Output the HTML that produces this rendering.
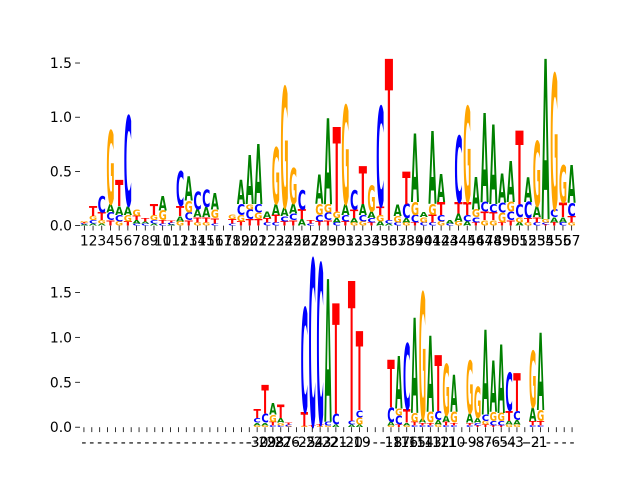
<!DOCTYPE html>
<html><head><meta charset="utf-8"><style>
html,body{margin:0;padding:0;background:#fff;}
svg{display:block;}
text{font-family:"DejaVu Sans","Liberation Sans",sans-serif;}
</style></head><body>
<svg id="chart" width="640" height="480" viewBox="0 0 640 480" xmlns="http://www.w3.org/2000/svg"></svg>
<script>
// ---- top panel data ----
const topLetters = ["ACTG","ACGT","AGTC","TCAG","GCAT","TGAC","CATG","CAT","ACGT","CTGA","ACT","GATC","TCGA","GTAC","GTAC","CTGA","","CTG","TGCA","TCGA","TGCA","CTA","CTAG","TCAG","TCAG","ATC","CT","TCGA","TCGA","CAGT","TCAG","GATC","GCAT","TCAG","AGTC","ACT","CGA","GACT","TCGA","CGA","CTGA","GCTA","CA","GATC","ACTG","TCGA","GTCA","GTCA","TGCA","TCGA","AGCT","GTCA","CTAG","TCGA","TACG","CATG","GTCA"];
const topHeights = [[.01,.01,.01,.01],[.02,.03,.04,.09],[.02,.03,.07,.15],[.05,.07,.08,.68],[.04,.06,.08,.24],[.04,.06,.08,.83],[.02,.03,.04,.06],[.02,.02,.03],[.02,.03,.05,.1],[.02,.03,.09,.13],[.01,.02,.02],[.04,.05,.09,.32],[.05,.07,.11,.22],[.03,.05,.07,.17],[.03,.05,.09,.16],[.02,.05,.08,.15],[],[.02,.04,.04],[.04,.06,.1,.22],[.06,.09,.05,.45],[.06,.06,.08,.55],[.03,.04,.06],[.03,.07,.1,.52],[.04,.05,.08,1.11],[.05,.06,.09,.33],[.06,.09,.18],[.02,.03],[.04,.06,.1,.27],[.05,.07,.08,.79],[.03,.04,.06,.78],[.04,.06,.1,.91],[.03,.04,.08,.18],[.04,.06,.1,.35],[.03,.04,.06,.24],[.04,.06,.08,.92],[.02,.03,1.49],[.03,.06,.11],[.03,.04,.13,.3],[.03,.07,.12,.63],[.03,.05,.05],[.03,.07,.1,.67],[.04,.06,.12,.26],[.02,.03],[.04,.07,.11,.61],[.04,.06,.12,.88],[.03,.05,.07,.3],[.05,.08,.09,.82],[.05,.07,.08,.73],[.03,.09,.09,.27],[.05,.08,.09,.38],[.03,.05,.12,.68],[.03,.04,.15,.23],[.03,.05,.1,.6],[.01,.02,.03,1.48],[.03,.05,.07,1.25],[.03,.05,.13,.35],[.03,.06,.12,.35]];
const topTicks = [0,0.5,1.0,1.5];
const topTickLabels = ["0.0","0.5","1.0","1.5"];
// ---- bottom panel data ----
const botPositions = [23,24,25,26,27,29,30,31,32,33,35,36,40,41,42,43,44,45,46,47,48,50,51,52,53,54,55,56,58,59];
const botLetters = ["GACT","GACT","CTGA","CGAT","GCT","GTC","TC","GTC","GCA","ACT","ACT","AGCT","GACT","TCGA","GATC","CTGA","CTAG","CTGA","GACT","CTAG","CTGA","CTAG","TCAG","TGCA","TCGA","TCGA","GATC","GACT","CTAG","CTGA"];
const botHeights = [[.02,.03,.05,.1],[.02,.03,.1,.32],[.02,.04,.08,.13],[.02,.03,.05,.15],[.01,.02,.02],[.01,.16,1.16],[.02,1.85],[.01,.03,1.78],[.02,.04,1.59],[.03,.12,1.23],[.03,.04,1.56],[.03,.08,.08,.88],[.02,.04,.16,.53],[.03,.1,.08,.59],[.02,.03,.15,.73],[.02,.04,.1,1.06],[.02,.03,.04,1.41],[.02,.03,.12,.85],[.03,.05,.1,.62],[.02,.04,.07,.57],[.02,.03,.12,.41],[.02,.03,.1,.59],[.02,.03,.05,.35],[.03,.04,.07,.94],[.02,.05,.1,.57],[.02,.05,.09,.76],[.03,.04,.11,.43],[.03,.05,.1,.42],[.02,.05,.15,.63],[.02,.05,.12,.86]];
const botTicks = [0,0.5,1.0,1.5];
const botTickLabels = ["0.0","0.5","1.0","1.5"];
const botLabelNums = ["-30","-29","-28","-27","-26","-25","-24","-23","-22","-21","-20","-19","-18","-17","-16","-15","-14","-13","-12","-11","-10","-9","-8","-7","-6","-5","-4","-3","-2","-1"];

const COLORS = {A:"#008000",C:"#0000ff",G:"#ffa500",T:"#ff0000"};
const NS = "http://www.w3.org/2000/svg";
const svg = document.getElementById("chart");
function mk(tag, attrs, parent){const e=document.createElementNS(NS,tag);for(const k in attrs)e.setAttribute(k,attrs[k]);(parent||svg).appendChild(e);return e;}

function panel(name, top, bottom, ymax, n){
  const g = mk("g",{});
  
  
  const L=80,R=576;
  const step=(R-L)/n;
  const xs = i => L + step*(i-0.5);
  const ys = v => bottom - (bottom-top)*v/ymax;
  return {g,xs,ys,step,L,R,top,bottom};
}
function drawStack(p, pos, letters, heights){
  let cum=0;
  for(let k=0;k<letters.length;k++){
    const ch=letters[k], h=heights[k];
    const y0=p.ys(cum), y1=p.ys(cum+h);
    cum+=h;
    const ph=y0-y1; if(ph<0.2) continue;
    const w=p.step*0.94;
    const t=mk("text",{x:p.xs(pos)-w/2,y:y0,"font-size":(ph/0.73).toFixed(3),"font-weight":"bold",fill:COLORS[ch],textLength:w.toFixed(2),lengthAdjust:"spacingAndGlyphs"},p.g);
    
    
    t.textContent=ch;
  }
}
function yAxis(p, ticks, labels){
  ticks.forEach((v,i)=>{
    const y=p.ys(v);
    mk("line",{x1:p.L-4.9,x2:p.L,y1:y,y2:y,stroke:"#000","stroke-width":0.8},p.g);
    const t=mk("text",{x:p.L-8,y:y+5,"font-size":13.9,"text-anchor":"end",fill:"#000"},p.g);
    
    
    t.textContent=labels[i];
  });
}
function xAxis(p, labels){
  labels.forEach((lab,i)=>{
    const x=p.xs(i+1);
    mk("line",{x1:x,x2:x,y1:p.bottom,y2:p.bottom+4.9,stroke:"#000","stroke-width":0.8},p.g);
    const t=mk("text",{x:x,y:p.bottom+20,"font-size":13.9,"text-anchor":"middle",fill:"#000"},p.g);
    
    
    t.textContent=lab;
  });
}

// top
const pt = panel("top-logo-panel", 57.6, 225.6, 1.55, 57);
topLetters.forEach((s,i)=>drawStack(pt,i+1,s,topHeights[i]));
yAxis(pt, topTicks, topTickLabels);
xAxis(pt, topLetters.map((_,i)=>String(i+1)));

// bottom
const pb = panel("bottom-logo-panel", 259.2, 427.2, 1.87, 63);
botPositions.forEach((pos,i)=>drawStack(pb,pos,botLetters[i],botHeights[i]));
yAxis(pb, botTicks, botTickLabels);
const botLabels=[];
for(let i=0;i<63;i++)botLabels.push("-");
botPositions.forEach((pos,i)=>{botLabels[pos-1]=botLabelNums[i];});
xAxis(pb, botLabels);
</script>
</body></html>
